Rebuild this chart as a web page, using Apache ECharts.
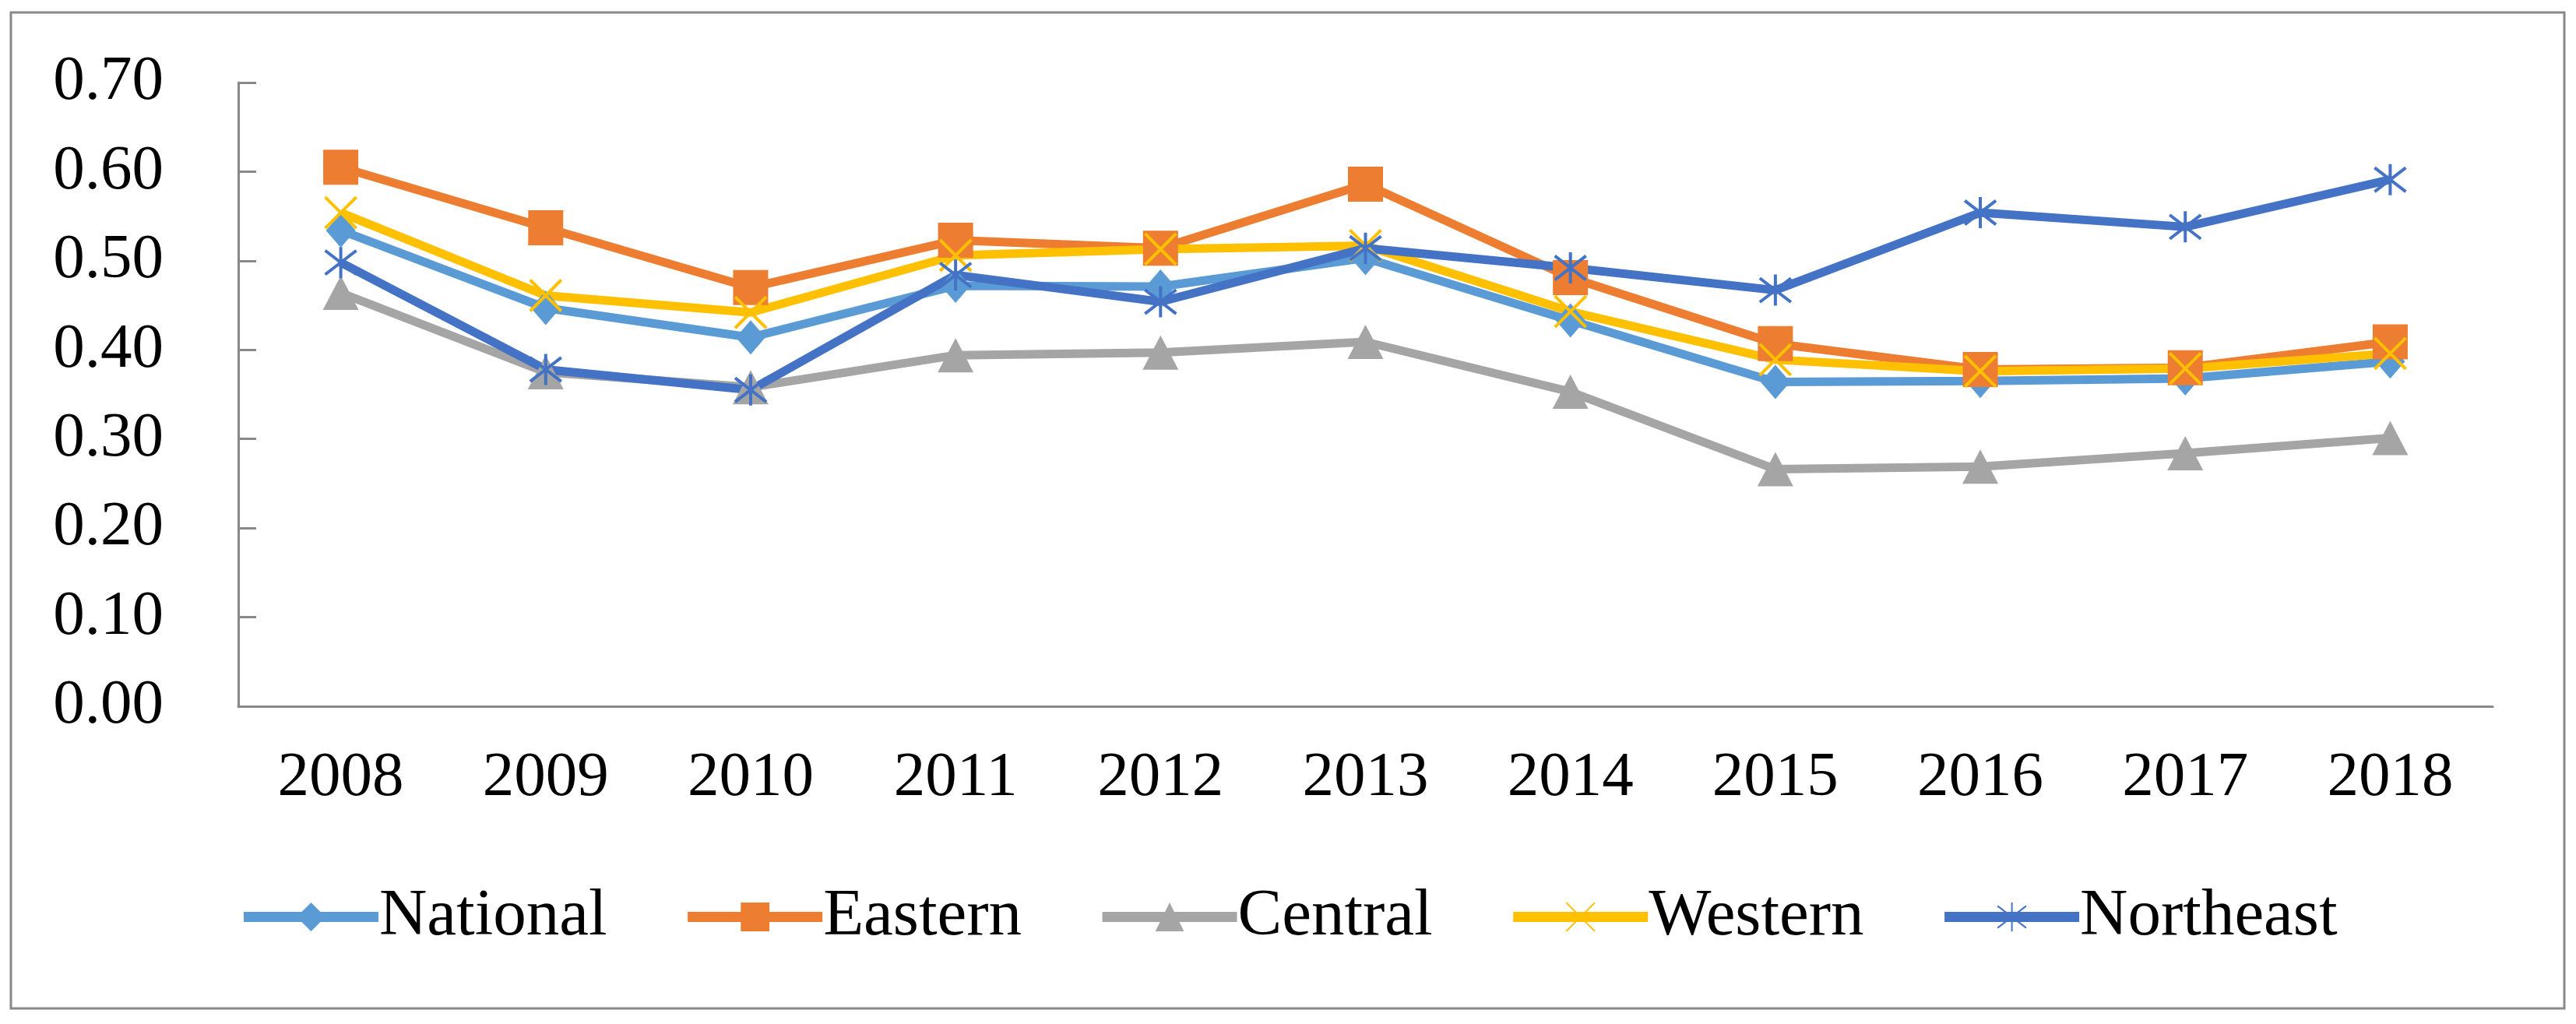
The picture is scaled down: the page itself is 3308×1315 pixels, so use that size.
<!DOCTYPE html>
<html>
<head>
<meta charset="utf-8">
<script src="https://cdn.jsdelivr.net/npm/echarts@6/dist/echarts.min.js"></script>
<style>
html,body{margin:0;padding:0;background:#fff;}
#main{width:3308px;height:1315px;}
</style>
</head>
<body>
<div id="main"></div>
<script>
const years = ['2008','2009','2010','2011','2012','2013','2014','2015','2016','2017','2018'];
const national  = [0.534,0.447,0.414,0.472,0.471,0.503,0.433,0.364,0.365,0.368,0.387];
const eastern   = [0.605,0.537,0.470,0.523,0.514,0.586,0.481,0.407,0.378,0.380,0.409];
const central   = [0.464,0.375,0.358,0.394,0.397,0.409,0.353,0.266,0.269,0.284,0.301];
const western   = [0.554,0.461,0.442,0.506,0.513,0.517,0.443,0.389,0.376,0.379,0.396];
const northeast = [0.498,0.378,0.355,0.484,0.454,0.514,0.492,0.467,0.554,0.538,0.591];
const seriesNames = ['National','Eastern','Central','Western','Northeast'];

const FONT = '"Liberation Serif","Times New Roman",serif';
const chart = echarts.init(document.getElementById('main'));

function mk(name, data, color, symbol, size, extra) {
  const s = {
    name: name, type: 'line', data: data,
    symbol: symbol, symbolSize: size,
    lineStyle: {color: color, width: 11},
    itemStyle: {color: color},
    emphasis: {disabled: true},
    animation: false
  };
  if (extra) Object.assign(s.itemStyle, extra);
  return s;
}

const X_PATH = 'path://M0 0 L10 10 M10 0 L0 10';
const STAR_PATH = 'path://M0 0 L10 10 M10 0 L0 10 M5 -1.5 L5 11.5';

chart.setOption({
  backgroundColor: '#fff',
  animation: false,
  graphic: [{
    type: 'rect', shape: {x: 14, y: 16, width: 3279, height: 1279},
    style: {fill: 'none', stroke: '#898989', lineWidth: 3}, silent: true
  }],
  grid: {left: 306, right: 107, top: 106, bottom: 408},
  legend: {
    bottom: 90, left: 'center',
    itemWidth: 173, itemHeight: 46, itemGap: 97,
    lineStyle: {width: 13},
    textStyle: {fontFamily: FONT, fontSize: 85, color: '#000', padding: [0,0,0,-4]},
    data: seriesNames
  },
  xAxis: {
    type: 'category', data: years, boundaryGap: true,
    axisLine: {lineStyle: {color: '#898989', width: 3}},
    axisTick: {inside: true, length: 22, lineStyle: {color: '#898989', width: 3}},
    axisLabel: {fontFamily: FONT, fontSize: 81, color: '#000', margin: 52}
  },
  yAxis: {
    type: 'value', min: 0, max: 0.7, interval: 0.1,
    splitLine: {show: false},
    axisLine: {show: true, lineStyle: {color: '#898989', width: 3}},
    axisTick: {show: true, inside: true, length: 23, lineStyle: {color: '#898989', width: 3}},
    axisLabel: {fontFamily: FONT, fontSize: 81, color: '#000', margin: 96,
      formatter: v => v.toFixed(2)}
  },
  series: [
    mk('National', national, '#5B9BD5', 'diamond', [38, 44]),
    mk('Eastern', eastern, '#ED7D31', 'rect', 45),
    mk('Central', central, '#A5A5A5', 'triangle', [46, 44]),
    mk('Western', western, '#FFC000', X_PATH, 40, {color: 'none', borderColor: '#FFC000', borderWidth: 4}),
    mk('Northeast', northeast, '#4472C4', STAR_PATH, 40, {color: 'none', borderColor: '#4472C4', borderWidth: 4})
  ]
});
</script>
</body>
</html>
